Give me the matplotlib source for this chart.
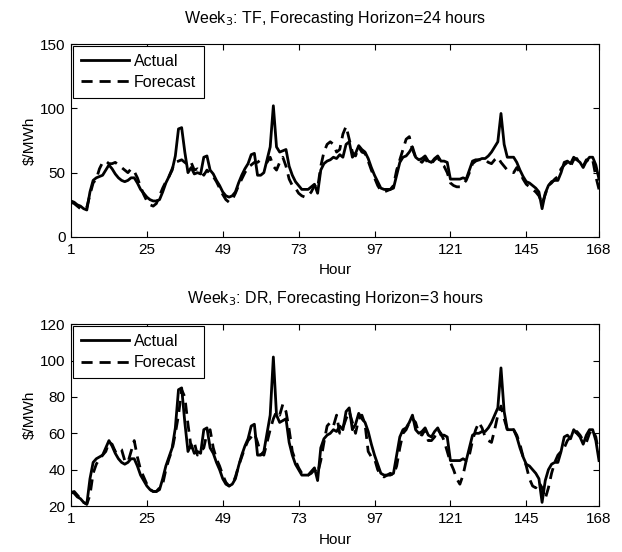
import matplotlib
matplotlib.use("Agg")
import matplotlib.pyplot as plt
import numpy as np

plt.rcParams['font.family'] = ['Liberation Sans', 'DejaVu Sans']

hours = list(range(1, 169))

actual = [28, 27, 25, 24, 22, 21, 35, 44, 46, 47, 48, 52, 56, 53, 49, 46, 44, 43, 44, 46,
          46, 42, 37, 34, 31, 29, 28, 28, 29, 35, 42, 47, 52, 63, 84, 85, 66, 50, 54, 49,
          50, 49, 62, 63, 52, 49, 44, 40, 35, 32, 31, 32, 35, 42, 48, 53, 57, 64, 65, 48,
          48, 50, 60, 70, 102, 70, 66, 67, 68, 55, 48, 43, 40, 37, 37, 37, 39, 41, 34, 52,
          57, 59, 60, 62, 61, 64, 62, 72, 74, 62, 65, 71, 68, 66, 61, 54, 48, 43, 38, 37,
          37, 37, 38, 48, 58, 62, 63, 66, 70, 62, 60, 61, 63, 59, 58, 61, 63, 59, 59, 58,
          45, 45, 45, 45, 46, 45, 52, 59, 60, 60, 61, 61, 63, 66, 70, 74, 96, 72, 62, 62,
          62, 58, 52, 47, 43, 42, 40, 38, 35, 22, 34, 40, 43, 44, 44, 50, 58, 59, 57, 62,
          60, 58, 54, 59, 62, 62, 56, 45]

forecast_tf = [27, 26, 24, 22, 21, 23, 33, 42, 45, 53, 58, 59, 57, 57, 58, 56, 54, 52, 50, 53,
               51, 46, 39, 33, 28, 25, 24, 26, 32, 38, 43, 47, 53, 58, 59, 60, 58, 56, 58, 52,
               53, 51, 48, 52, 49, 47, 43, 38, 33, 29, 27, 29, 34, 40, 45, 50, 54, 56, 58, 58,
               60, 59, 58, 62, 55, 52, 58, 62, 55, 45, 40, 38, 34, 32, 31, 32, 35, 40, 38, 55,
               66, 72, 74, 72, 66, 68, 80, 86, 76, 66, 63, 70, 66, 65, 59, 52, 46, 40, 36, 35,
               36, 37, 40, 52, 60, 68, 76, 78, 68, 62, 60, 58, 61, 57, 57, 60, 62, 57, 55, 50,
               42, 40, 39, 39, 41, 44, 50, 57, 59, 60, 60, 60, 58, 57, 60, 62, 58, 55, 52, 51,
               50, 54, 50, 45, 41, 39, 37, 35, 32, 26, 33, 40, 42, 45, 47, 53, 56, 58, 55, 60,
               61, 56, 55, 60, 58, 60, 47, 37]

forecast_dr = [27, 28, 26, 24, 22, 21, 26, 38, 43, 46, 48, 50, 55, 54, 50, 52, 51, 45, 44, 50,
               56, 47, 40, 36, 32, 29, 28, 28, 30, 32, 40, 46, 51, 60, 70, 84, 80, 65, 52, 55,
               48, 50, 52, 60, 62, 52, 46, 42, 37, 33, 31, 32, 36, 42, 47, 52, 56, 58, 60, 55,
               49, 48, 55, 62, 68, 72, 70, 76, 72, 62, 50, 45, 41, 38, 37, 37, 38, 40, 38, 45,
               55, 64, 66, 64, 70, 60, 63, 68, 72, 66, 60, 68, 70, 65, 50, 47, 46, 40, 37, 36,
               37, 38, 37, 42, 52, 60, 62, 66, 68, 66, 60, 59, 62, 56, 56, 58, 62, 60, 56, 50,
               44, 40, 35, 32, 37, 45, 48, 56, 62, 66, 63, 58, 56, 55, 62, 70, 75, 68, 62, 61,
               62, 59, 54, 47, 42, 35, 31, 30, 33, 30, 24, 30, 38, 44, 48, 50, 52, 56, 58, 58,
               61, 59, 56, 55, 60, 62, 58, 48]

xticks = [1, 25, 49, 73, 97, 121, 145, 168]
yticks_top = [0, 50, 100, 150]
yticks_bot = [20, 40, 60, 80, 100, 120]

fig = plt.figure(figsize=(6.22, 5.52), dpi=100)
ax1 = fig.add_axes([71/622, 1-237/552, 528/622, 193/552])
ax2 = fig.add_axes([71/622, 1-506/552, 528/622, 181.7/552])

FS = 11

def style(ax, title, yticks, ylim):
    ax.plot(hours, actual, color='black', lw=2.0, label='Actual')
    ax.set_xlim(1, 168)
    ax.set_ylim(*ylim)
    ax.set_xticks(xticks)
    ax.set_yticks(yticks)
    ax.tick_params(direction='in', top=True, right=True, length=4, width=0.8,
                   labelsize=FS, pad=4)
    for s in ax.spines.values():
        s.set_linewidth(0.8)
    ax.set_xlabel('Hour', fontsize=FS, labelpad=5)
    ax.set_ylabel('\\$/MWh', fontsize=FS, labelpad=2)
    ax.set_title(title, fontsize=11.5, pad=15)

style(ax1, 'Week$_3$: TF, Forecasting Horizon=24 hours', yticks_top, (0, 150))
ax1.plot(hours, forecast_tf, color='black', lw=2.0, ls=(0, (4, 2.5)), label='Forecast')
style(ax2, 'Week$_3$: DR, Forecasting Horizon=3 hours', yticks_bot, (20, 120))
ax2.plot(hours, forecast_dr, color='black', lw=2.0, ls=(0, (4, 2.5)), label='Forecast')

for ax in (ax1, ax2):
    leg = ax.legend(loc='upper left', fontsize=11.5, frameon=True, fancybox=False,
                    edgecolor='black', framealpha=1, borderaxespad=0.1,
                    handlelength=3.0, handletextpad=0.33, borderpad=0.5, labelspacing=0.4)
    leg.get_frame().set_linewidth(0.8)

fig.savefig('out.png', dpi=100)
